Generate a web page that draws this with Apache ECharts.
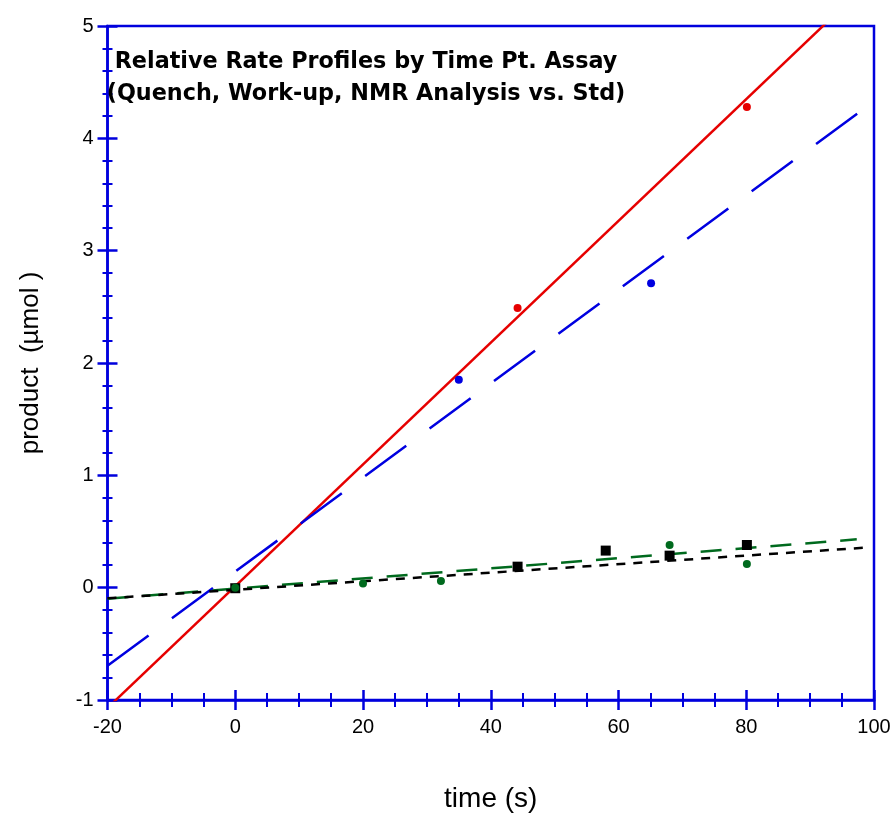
<!DOCTYPE html>
<html>
<head>
<meta charset="utf-8">
<script src="https://cdn.jsdelivr.net/npm/echarts@6/dist/echarts.min.js"></script>
<style>html,body{margin:0;padding:0;background:#fff}#c{width:895px;height:813px}</style>
</head>
<body>
<div id="c"></div>
<script>
// ---- data ----
const titleLines = ['Relative Rate Profiles by Time Pt. Assay', '(Quench, Work-up, NMR Analysis vs. Std)'];
const xName = 'time (s)';
const yName = 'product  (\u00b5mol )';
const xTicks = [-20, 0, 20, 40, 60, 80, 100];
const yTicks = [-1, 0, 1, 2, 3, 4, 5];

const redPts   = [[0, 0], [44.2, 2.49], [80.1, 4.28]];
const bluePts  = [[0, 0], [35.0, 1.85], [65.1, 2.71]];
const greenPts = [[0, 0], [20.0, 0.036], [32.2, 0.06], [68.0, 0.38], [80.1, 0.21]];
const blackPts = [[0, -0.005], [44.2, 0.187], [58.0, 0.33], [68.0, 0.285], [80.1, 0.38]];

const redFit   = [[-20, -1.071], [100, 5.433]];
const blueFit  = [[-20, -0.695], [100, 4.33]];
const greenFit = [[-20, -0.098], [97.3, 0.43]];
const blackFit = [[-20, -0.095], [98.5, 0.356]];

// ---- styles ----
const FONT = "'Liberation Sans', Arial, Helvetica, sans-serif";
const AX = '#0000dd';
const RED = '#e60000', BLUE = '#0000e0', GREEN = '#006a1e', BLACK = '#000000';

const chart = echarts.init(document.getElementById('c'), null, {renderer: 'canvas'});

const gridPos = {left: 107.5, right: 21, top: 26, bottom: 113, containLabel: false, outerBoundsMode: 'none'};

// kind: 'main' (line+labels), 'major' (crossing major ticks), 'minor' (crossing minor ticks)
function xAxisOf(gridIndex, kind) {
  const main = kind === 'main';
  return {
    type: 'value', gridIndex, min: xTicks[0], max: xTicks[xTicks.length - 1], interval: 20,
    position: 'bottom',
    offset: kind === 'major' ? -10 : (kind === 'minor' ? -7 : 0),
    name: main ? xName : '', nameLocation: 'middle', nameGap: 85,
    nameTextStyle: {fontFamily: FONT, fontSize: 28, color: '#000'},
    axisLine: {show: main, onZero: false, lineStyle: {color: AX, width: 2.5}},
    axisTick: {show: kind === 'major', length: 20, lineStyle: {color: AX, width: 2.5}},
    minorTick: {show: kind === 'minor', splitNumber: 4, length: 14, lineStyle: {color: AX, width: 2}},
    axisLabel: {show: main, margin: 17, fontFamily: FONT, fontSize: 20, color: '#000'},
    splitLine: {show: false}
  };
}
function yAxisOf(gridIndex, kind) {
  const main = kind === 'main';
  return {
    type: 'value', gridIndex, min: yTicks[0], max: yTicks[yTicks.length - 1], interval: 1,
    position: 'left',
    offset: kind === 'major' ? -10 : (kind === 'minor' ? -5 : 0),
    name: main ? yName : '', nameLocation: 'middle', nameGap: 64,
    nameTextStyle: {fontFamily: FONT, fontSize: 26, color: '#000'},
    axisLine: {show: main, onZero: false, lineStyle: {color: AX, width: 2.5}},
    axisTick: {show: kind === 'major', length: 20, lineStyle: {color: AX, width: 2.5}},
    minorTick: {show: kind === 'minor', splitNumber: 5, length: 10, lineStyle: {color: AX, width: 2}},
    axisLabel: {show: main, margin: 14, fontFamily: FONT, fontSize: 20, color: '#000'},
    splitLine: {show: false}
  };
}

function fitLine(data, color, width, type) {
  return {type: 'line', data, xAxisIndex: 0, yAxisIndex: 0, showSymbol: false, symbol: 'none',
    clip: true, silent: true, lineStyle: {color, width, type, cap: 'butt'}, z: 2};
}
function pts(data, color, symbol, size) {
  return {type: 'scatter', data, xAxisIndex: 0, yAxisIndex: 0, symbol, symbolSize: size,
    itemStyle: {color, opacity: 1}, silent: true, z: 3};
}

chart.setOption({
  animation: false,
  backgroundColor: '#fff',
  grid: [
    Object.assign({show: true, borderColor: AX, borderWidth: 2.5, backgroundColor: 'transparent'}, gridPos),
    Object.assign({show: false}, gridPos),
    Object.assign({show: false}, gridPos)
  ],
  xAxis: [xAxisOf(0, 'main'), xAxisOf(1, 'major'), xAxisOf(2, 'minor')],
  yAxis: [yAxisOf(0, 'main'), yAxisOf(1, 'major'), yAxisOf(2, 'minor')],
  graphic: [{
    type: 'text', x: 366, y: 46, z: 10,
    style: {text: titleLines.join('\n'), font: "bold 22.3px 'DejaVu Sans', sans-serif", fill: '#000',
      textAlign: 'center', textVerticalAlign: 'top', lineHeight: 32}
  }],
  series: [
    fitLine(redFit, RED, 2.5, 'solid'),
    fitLine(blueFit, BLUE, 2.5, [51, 29]),
    fitLine(greenFit, GREEN, 2.5, [21, 14]),
    fitLine(blackFit, BLACK, 2.5, [9, 8]),
    pts(redPts, RED, 'circle', 8),
    pts(bluePts, BLUE, 'circle', 8),
    pts(blackPts, BLACK, 'rect', 10),
    pts(greenPts, GREEN, 'circle', 8)
  ]
});
</script>
</body>
</html>
